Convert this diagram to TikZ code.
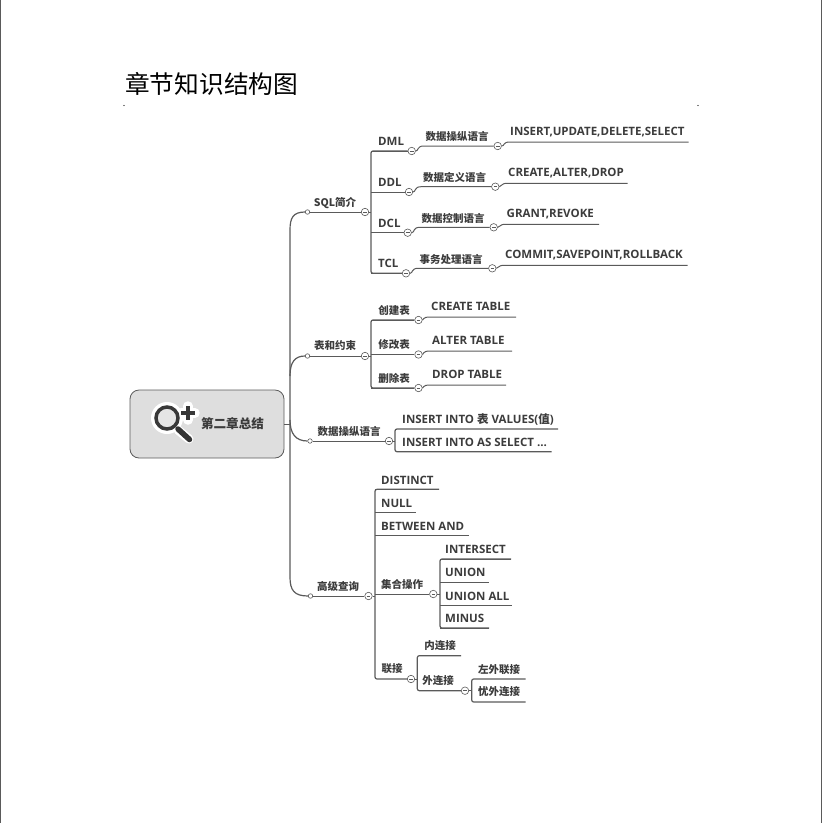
\documentclass[tikz,border=0pt]{standalone}
\usepackage{fontspec}
\setmainfont{Open Sans}
\newfontfamily\cjk{Noto Sans CJK SC}
\usetikzlibrary{positioning,calc}
\definecolor{branch}{HTML}{5A5A5A}
\definecolor{inktext}{HTML}{3C3C3C}
\tikzset{
  every picture/.style={font=\fontsize{11.5}{13}\selectfont\bfseries},
  latin/.style={text=inktext,inner sep=0pt,anchor=west},
  han/.style={text=inktext,inner sep=0pt,font=\fontsize{10.5}{12}\selectfont\cjk\bfseries},
  fold/.style={circle,draw=branch,fill=white,line width=0.6pt,minimum size=7.5pt,inner sep=0pt,
    path picture={\draw[branch,line width=0.5pt] ([xshift=-1.8pt]path picture bounding box.center) -- ([xshift=1.8pt]path picture bounding box.center);}},
  tap/.style={circle,draw=branch,fill=white,line width=0.6pt,minimum size=4.5pt,inner sep=0pt},
  wire/.style={branch,line width=1pt},
  spine/.style={branch,line width=1.2pt,rounded corners=2pt},
}
\begin{document}
\begin{tikzpicture}[x=1pt,y=-1pt]
  \useasboundingbox (0,0) rectangle (822,823);
  % page edges and title
  \coordinate (edgeA) at (0.7,0);
  \coordinate (edgeB) at (0.7,823);
  \coordinate (edgeC) at (821.3,0);
  \coordinate (edgeD) at (821.3,823);
  \draw[branch,line width=1.2pt] (edgeA) -- (edgeB) (edgeC) -- (edgeD);
  \node[anchor=west,inner sep=0pt,font=\fontsize{24.7}{28}\selectfont\cjk] (title) at (125,84) {章节知识结构图};
  \fill (124,105.5) circle (0.6);
  \fill (698,105.5) circle (0.6);
  % root
  \node[draw=branch,fill=black!13,rounded corners=9pt,line width=0.8pt,minimum width=154pt,minimum height=68pt] (root) at (207,424) {};
  \node[han,font=\fontsize{12.6}{15}\selectfont\cjk\bfseries] (rootlabel) at (232.5,424) {第二章总结};
  \draw[white,line width=9pt,line cap=round] (178,430) -- (189,439);
  \draw[white,line width=3pt,fill=white] (167,418) circle (14.5);
  \draw[white,line width=9.5pt,line cap=round] (181,413) -- (195,413) (188,406) -- (188,420);
  \draw[black!78,line width=3.5pt,fill=black!10] (167,418) circle (11);
  \draw[black!80,line width=5.5pt,line cap=round] (178,429) -- (189.5,439.5);
  \draw[black!78,line width=4.5pt] (181,413) -- (195,413) (188,406) -- (188,420);
  % trunk
  \coordinate (hub) at (290,424);
  \coordinate (sqlbend) at (290,232);
  \coordinate (advbend) at (290,575);
  \coordinate (tabbend) at (290,376);
  \coordinate (dmlbend) at (290,420);
  \draw[wire] (root.east) -- (hub);
  \foreach \nm/\tx/\ty/\cap in {
    sql/335/203/SQL简介,
    tab/335/346/表和约束,
    dml/349/431/数据操纵语言,
    adv/338/586.5/高级查询}{
    \node[han] (\nm) at (\tx,\ty) {\cap};
  }
  \node[tap] (sqltap) at (307.5,212) {};
  \node[fold] (sqlfold) at (365,212) {};
  \node[tap] (tabtap) at (307.5,356) {};
  \node[fold] (tabfold) at (365,356) {};
  \node[tap] (dmltap) at (310,441) {};
  \node[fold] (dmlfold) at (389,441) {};
  \node[tap] (advtap) at (310.5,596) {};
  \node[fold] (advfold) at (368.5,596) {};
  \draw[spine] (sqltap) .. controls (293,212) and (290,218) .. (sqlbend) -- (advbend)
    .. controls (290,590) and (294,596) .. (advtap);
  \draw[spine] (tabtap) .. controls (295,356) and (290,362) .. (tabbend);
  \draw[spine] (dmltap) .. controls (296,441) and (290,434) .. (dmlbend);
  \foreach \nm in {sql,tab,dml,adv}{
    \draw[wire] (\nm tap) -- (\nm fold);
  }
  % SQL branch
  \foreach \nm/\cap/\ly/\fx/\gy/\gx/\leaf/\leafx/\hy/\hx in {
    a/DML/151/411.7/146/497.7/{INSERT,UPDATE,DELETE,SELECT}/510/142/688.7,
    b/DDL/192/409/186.7/495.3/{CREATE,ALTER,DROP}/508/183.3/627.7,
    c/DCL/232.7/407.7/227.3/493.7/{GRANT,REVOKE}/506.5/224.3/599,
    d/TCL/273.3/406/268.3/492.3/{COMMIT,SAVEPOINT,ROLLBACK}/505/265.3/687.7}{
    \coordinate (\nm joint) at (371,\ly);
    \node[latin] (\nm top) at (378,\ly-9.5) {\cap};
    \node[fold] (\nm fold) at (\fx,\ly) {};
    \node[fold] (\nm sub) at (\gx,\gy) {};
    \node[latin] (\nm leaf) at (\leafx,\hy-9.8) {\leaf};
    \coordinate (\nm end) at (\hx,\hy);
    \draw[wire] (\nm joint) -- (\nm fold);
    \draw[wire] (\nm fold) .. controls (\fx+7,\ly) and (\fx+5,\gy) .. (\fx+12,\gy) -- (\nm sub);
    \draw[wire] (\nm sub) .. controls (\gx+7,\gy) and (\gx+5,\hy) .. (\gx+12,\hy) -- (\nm end);
  }
  \node[han] (aname) at (457,136) {数据操纵语言};
  \node[han] (bname) at (454.5,177) {数据定义语言};
  \node[han] (cname) at (453,218) {数据控制语言};
  \node[han] (dname) at (451,259) {事务处理语言};
  \coordinate (sqlspine) at (371,212);
  \draw[wire] (sqlfold) -- (sqlspine);
  \draw[spine] (dfold) -- (djoint) -- (ajoint) -- (afold);
  % table branch
  \foreach \nm/\cap/\ly/\hy/\hx/\leaf/\leafx in {
    e/创建表/320/317/516/{CREATE TABLE}/431,
    f/修改表/354.5/351/512/{ALTER TABLE}/432,
    g/删除表/388/385/506/{DROP TABLE}/432}{
    \coordinate (\nm joint) at (371,\ly);
    \node[han] (\nm top) at (394,\ly-9.5) {\cap};
    \node[fold] (\nm fold) at (418.5,\ly) {};
    \node[latin] (\nm leaf) at (\leafx,\hy-10.3) {\leaf};
    \coordinate (\nm end) at (\hx,\hy);
    \draw[wire] (\nm joint) -- (\nm fold);
    \draw[wire] (\nm fold) .. controls (424,\ly) and (422,\hy) .. (430,\hy) -- (\nm end);
  }
  \coordinate (tabspine) at (371,356);
  \draw[wire] (tabfold) -- (tabspine);
  \draw[spine] (efold) -- (ejoint) -- (gjoint) -- (gfold);
  % data manipulation branch
  \node[latin] (hleaf) at (402,419) {INSERT INTO {\cjk 表} VALUES({\cjk 值})};
  \node[latin] (ileaf) at (402,442) {INSERT INTO AS SELECT ...};
  \coordinate (hend) at (558,429);
  \coordinate (iend) at (551.7,451.7);
  \coordinate (hjoint) at (395,429);
  \coordinate (ijoint) at (395,451.7);
  \coordinate (dmlspine) at (395,441);
  \draw[wire] (dmlfold) -- (dmlspine);
  \draw[spine] (hend) -- (hjoint) -- (ijoint) -- (iend);
  % advanced query branch
  \foreach \nm/\cap/\ly/\hx in {
    j/DISTINCT/489.3/439,
    k/NULL/512.7/415.7,
    l/BETWEEN AND/535.7/469}{
    \coordinate (\nm joint) at (375,\ly);
    \node[latin] (\nm leaf) at (381,\ly-9.3) {\cap};
    \coordinate (\nm end) at (\hx,\ly);
    \draw[wire] (\nm joint) -- (\nm end);
  }
  \node[han] (settop) at (402,584) {集合操作};
  \node[fold] (setfold) at (433.3,594) {};
  \node[han] (jointop) at (392,669) {联接};
  \node[fold] (joinfold) at (411,679) {};
  \coordinate (advspine) at (375,596);
  \coordinate (setjoint) at (375,594);
  \coordinate (joinjoint) at (375,679);
  \draw[wire] (advfold) -- (advspine);
  \draw[wire] (setjoint) -- (setfold);
  \draw[spine] (jend) -- (jjoint) -- (joinjoint) -- (joinfold);
  \foreach \nm/\cap/\ly/\hx in {
    m/INTERSECT/559/511,
    n/UNION/582/489.3,
    o/UNION ALL/605.7/512.3,
    p/MINUS/628/489}{
    \coordinate (\nm joint) at (440,\ly);
    \node[latin] (\nm leaf) at (445,\ly-9.5) {\cap};
    \coordinate (\nm end) at (\hx,\ly);
    \draw[wire] (\nm joint) -- (\nm end);
  }
  \coordinate (setspine) at (440,594);
  \draw[wire] (setfold) -- (setspine);
  \draw[spine] (mend) -- (mjoint) -- (pjoint) -- (pend);
  \node[han] (qleaf) at (440,646) {内连接};
  \node[han] (rtop) at (438,681) {外连接};
  \node[fold] (rfold) at (465,690.7) {};
  \coordinate (qend) at (461,655.7);
  \coordinate (qjoint) at (417.3,655.7);
  \coordinate (rjoint) at (417.3,690.7);
  \coordinate (joinspine) at (417.3,679);
  \draw[wire] (joinfold) -- (joinspine);
  \draw[spine] (qend) -- (qjoint) -- (rjoint) -- (rfold);
  \node[han] (sleaf) at (499,669.5) {左外联接};
  \node[han] (tleaf) at (499,692) {忧外连接};
  \coordinate (send) at (525.7,679);
  \coordinate (tend) at (525.7,702);
  \coordinate (sjoint) at (471.7,679);
  \coordinate (tjoint) at (471.7,702);
  \coordinate (rspine) at (471.7,690.7);
  \draw[wire] (rfold) -- (rspine);
  \draw[spine] (send) -- (sjoint) -- (tjoint) -- (tend);
\end{tikzpicture}
\end{document}
